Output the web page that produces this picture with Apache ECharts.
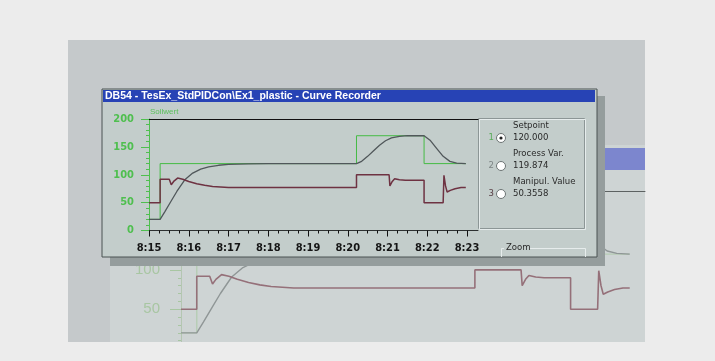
<!DOCTYPE html>
<html>
<head>
<meta charset="utf-8">
<title>Curve Recorder</title>
<script src="https://cdn.jsdelivr.net/npm/echarts@6/dist/echarts.min.js"></script>
<style>
  html, body { margin: 0; padding: 0; background: #ececec; }
  #chart { width: 715px; height: 361px; }
</style>
</head>
<body>
<div id="chart"></div>
<script>
// time is in minutes after 8:15
var timeLabels = ['8:15', '8:16', '8:17', '8:18', '8:19', '8:20', '8:21', '8:22', '8:23'];

var spTime  = [0, 0.28, 5.22, 6.92, 7.97];
var spValue = [20, 120, 170, 120, 120];

var pvTime  = [0, 0.28, 0.4, 0.55, 0.7, 0.9, 1.1, 1.3, 1.5, 1.75, 2.0, 2.5, 3.0, 4.0, 5.22,
               5.35, 5.5, 5.65, 5.8, 5.95, 6.1, 6.3, 6.5, 6.92, 7.07, 7.24, 7.4, 7.57, 7.74, 7.97];
var pvValue = [20, 20, 34, 52, 70, 91, 103, 110, 114, 117, 118.5, 119.5, 120, 120, 120,
               124, 133, 143, 153, 161, 166, 169, 170, 170, 162, 147, 133, 124, 121, 120];

var mvTime  = [0, 0.28, 0.28, 0.51, 0.56, 0.62, 0.72, 0.85, 1.0, 1.2, 1.4, 1.6, 1.8, 2.0, 3.0, 4.0, 5.22,
               5.22, 6.04, 6.06, 6.12, 6.18, 6.3, 6.45, 6.92, 6.92, 7.4, 7.42, 7.46, 7.5, 7.58, 7.7, 7.85, 7.97];
var mvValue = [50, 50, 92, 92, 82, 88, 94, 92, 88, 84, 81, 79, 78, 77, 77, 77, 77,
               100, 100, 80, 88, 93, 91, 90, 90, 50, 50, 99, 80, 69, 72, 75, 77, 77];

var legendNames    = ['Setpoint', 'Process Var.', 'Manipul. Value'];
var legendReadouts = ['120.000', '119.874', '50.3558'];

var titleText = 'DB54 - TesEx_StdPIDCon\\Ex1_plastic - Curve Recorder';

function pairs(ts, vs) {
  return ts.map(function (t, i) { return [t, vs[i]]; });
}

var narrow = "'Liberation Sans Narrow', 'DejaVu Sans Condensed', sans-serif";

var chart = echarts.init(document.getElementById('chart'));

function lineSeries(name, data, xi, yi, color, width, z, step) {
  return {
    name: name, type: 'line', data: data, xAxisIndex: xi, yAxisIndex: yi,
    step: step || false, symbol: 'none', silent: true, z: z,
    lineStyle: { color: color, width: width }
  };
}

function frameAxis(grid, pos, color, z) {
  return { gridIndex: grid, type: 'value', min: 0, max: 1, position: pos, z: z,
    axisLine: { onZero: false, lineStyle: { color: color, width: 1 } },
    axisTick: { show: false }, axisLabel: { show: false }, splitLine: { show: false } };
}

var graphics = [
  // photo behind the window
  { type: 'rect', shape: { x: 68, y: 40, width: 577, height: 302 }, style: { fill: '#c5c9cb' }, z: 0 },
  { type: 'rect', shape: { x: 110, y: 145, width: 535, height: 197 }, style: { fill: '#ced4d4' }, z: 1 },
  { type: 'rect', shape: { x: 400, y: 148, width: 245, height: 22 }, style: { fill: '#7c86ce' }, z: 1 },
  { type: 'rect', shape: { x: 0, y: 342, width: 715, height: 19 }, style: { fill: '#ececec' }, z: 4 },
  // window
  { type: 'rect', shape: { x: 110, y: 96, width: 495, height: 170 }, style: { fill: '#959d9d' }, z: 5 },
  { type: 'rect', shape: { x: 102, y: 89, width: 495, height: 168 }, style: { fill: '#c3cdcb', stroke: '#4a5252', lineWidth: 1 }, z: 6 },
  { type: 'rect', shape: { x: 103, y: 90, width: 492, height: 12 }, style: { fill: '#2743b5' }, z: 6 },
  { type: 'text', x: 105, y: 96, style: { text: titleText, fill: '#ffffff', font: 'bold 10.5px "Liberation Sans", sans-serif', verticalAlign: 'middle' }, z: 7 },
  { type: 'text', x: 150, y: 112, style: { text: 'Sollwert', fill: '#5cc05c', font: '8px "Liberation Sans", sans-serif', verticalAlign: 'middle' }, z: 7 },
  // legend panel
  { type: 'rect', shape: { x: 478.5, y: 118.5, width: 106, height: 110 }, style: { fill: 'none', stroke: '#8c9696', lineWidth: 1 }, z: 7 },
  { type: 'rect', shape: { x: 479.5, y: 119.5, width: 106, height: 110 }, style: { fill: 'none', stroke: '#e6ecec', lineWidth: 1 }, z: 7 },
  // zoom group box
  { type: 'polyline', shape: { points: [[501.5, 257], [501.5, 248.5], [504, 248.5]] }, style: { stroke: '#e6ecec', lineWidth: 1, fill: 'none' }, z: 7 },
  { type: 'polyline', shape: { points: [[530, 248.5], [585.5, 248.5], [585.5, 257]] }, style: { stroke: '#e6ecec', lineWidth: 1, fill: 'none' }, z: 7 },
  { type: 'text', x: 506, y: 248, style: { text: 'Zoom', fill: '#2a2a2a', font: '9.5px ' + narrow, verticalAlign: 'middle' }, z: 7 }
];

var numColors = ['#5aac5a', '#7d8585', '#5a4046'];
legendNames.forEach(function (name, i) {
  var y0 = 126 + i * 28;
  graphics.push(
    { type: 'text', x: 513, y: y0, style: { text: name, fill: '#2a2a2a', font: '9.5px ' + narrow, verticalAlign: 'middle' }, z: 7 },
    { type: 'text', x: 513, y: y0 + 12, style: { text: legendReadouts[i], fill: '#2a2a2a', font: '9.5px ' + narrow, verticalAlign: 'middle' }, z: 7 },
    { type: 'text', x: 494, y: y0 + 12, style: { text: String(i + 1), fill: numColors[i], font: '9.5px ' + narrow, verticalAlign: 'middle', align: 'right' }, z: 7 },
    { type: 'circle', shape: { cx: 501, cy: y0 + 12, r: 4.5 }, style: { fill: '#ffffff', stroke: '#6c7474', lineWidth: 1 }, z: 7 }
  );
  if (i === 0) {
    graphics.push({ type: 'circle', shape: { cx: 501, cy: y0 + 12, r: 1.6 }, style: { fill: '#222' }, z: 8 });
  }
});

var bgGreen = '#a8c6a2';
var fgGreen = '#4fbf4f';

var option = {
  backgroundColor: '#ececec',
  animation: false,
  grid: [
    { left: 178, top: 191.2, width: 467, height: 157.4 },  // background frame
    { left: 181, top: 191.2, width: 450.4, height: 157.4 }, // background data
    { left: 146, top: 119, width: 332, height: 111.5 },    // window frame
    { left: 149, top: 119, width: 318, height: 111.5 }     // window data
  ],
  xAxis: [
    frameAxis(0, 'top', '#5d6262', 2),
    { gridIndex: 1, type: 'value', min: 0, max: 8, show: false },
    frameAxis(2, 'top', '#111111', 8),
    frameAxis(2, 'bottom', '#2c3030', 8),
    { gridIndex: 3, type: 'value', min: 0, max: 8, interval: 1, position: 'bottom', z: 8,
      axisLine: { show: false },
      axisTick: { show: true, length: 6, lineStyle: { color: '#111' } },
      minorTick: { show: true, splitNumber: 4, length: 3, lineStyle: { color: '#111' } },
      splitLine: { show: false },
      axisLabel: { margin: 12, color: '#151515', fontWeight: 'bold', fontSize: 11, fontFamily: narrow,
        formatter: function (v) { return timeLabels[Math.round(v)] || ''; } } }
  ],
  yAxis: [
    { gridIndex: 0, type: 'value', min: 0, max: 1, show: false },
    { gridIndex: 1, type: 'value', min: 0, max: 200, interval: 50, offset: 3, z: 2,
      axisLine: { show: true, lineStyle: { color: '#b4c6b2' } },
      axisTick: { show: true, length: 11, lineStyle: { color: bgGreen } },
      minorTick: { show: true, splitNumber: 5, length: 3, lineStyle: { color: bgGreen } },
      splitLine: { show: false },
      axisLabel: { margin: 18, color: bgGreen, fontSize: 15, fontFamily: "'Liberation Sans', sans-serif" } },
    { gridIndex: 2, type: 'value', min: 0, max: 1, show: false },
    { gridIndex: 3, type: 'value', min: 0, max: 200, interval: 50, offset: 3, z: 8,
      axisLine: { show: true, lineStyle: { color: fgGreen } },
      axisTick: { show: true, length: 8, lineStyle: { color: fgGreen } },
      minorTick: { show: true, splitNumber: 5, length: 3, lineStyle: { color: fgGreen } },
      splitLine: { show: false },
      axisLabel: { margin: 12, color: fgGreen, fontWeight: 'bold', fontSize: 11, fontFamily: narrow } }
  ],
  series: [
    lineSeries('Setpoint bg', pairs(spTime, spValue), 1, 1, '#b6ccb4', 1.4, 3, 'end'),
    lineSeries('Process Var. bg', pairs(pvTime, pvValue), 1, 1, '#8f9696', 1.4, 3),
    lineSeries('Manipul. Value bg', pairs(mvTime, mvValue), 1, 1, '#957079', 1.6, 3),
    lineSeries('Setpoint', pairs(spTime, spValue), 4, 3, '#45bb45', 1, 9, 'end'),
    lineSeries('Process Var.', pairs(pvTime, pvValue), 4, 3, '#50575a', 1.3, 9),
    lineSeries('Manipul. Value', pairs(mvTime, mvValue), 4, 3, '#6e3242', 1.5, 9)
  ],
  graphic: graphics
};

chart.setOption(option);
</script>
</body>
</html>
